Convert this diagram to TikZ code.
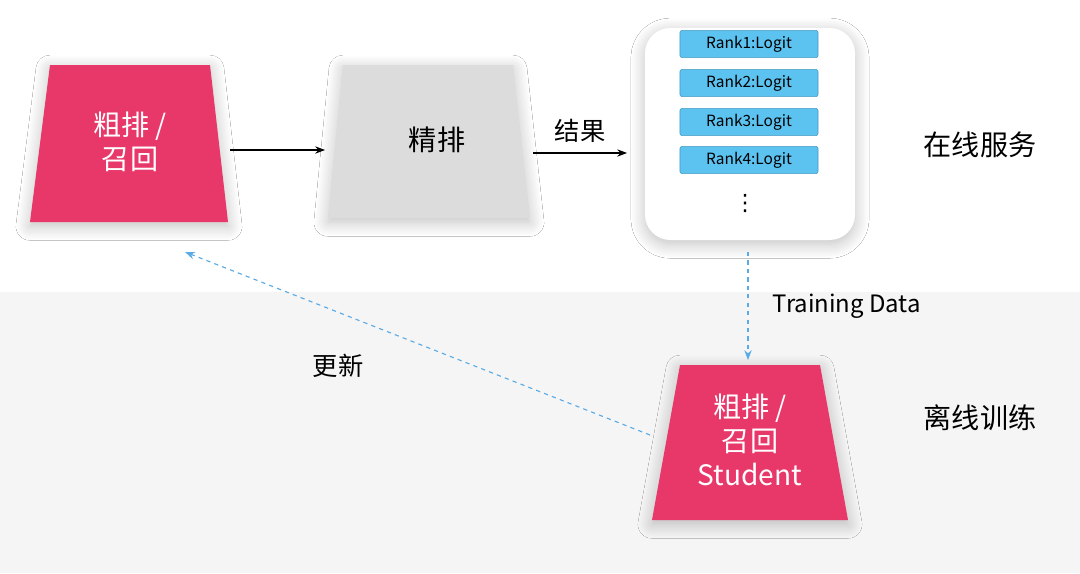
\documentclass[tikz,border=0pt]{standalone}
\usepackage{fontspec}
\setmainfont{Noto Sans CJK SC}
\newfontfamily\symfont{DejaVu Sans}
\usetikzlibrary{arrows.meta,shadows.blur}
\definecolor{pinkc}{HTML}{E8386A}
\definecolor{grayc}{HTML}{DCDCDC}
\definecolor{rankc}{HTML}{5CC2F0}
\definecolor{dashc}{HTML}{5AAAE6}
\definecolor{bgc}{HTML}{F5F5F5}
\begin{document}
\begin{tikzpicture}[x=0.025cm,y=-0.025cm,
bigtext/.style={font=\fontsize{20}{24}\selectfont},
ranknode/.style={rectangle, fill=rankc, draw=rankc!80!black, thin, rounded corners=1.5pt, minimum width=3.45cm, minimum height=0.68cm, font=\fontsize{11}{13}\selectfont},
solidarrow/.style={-{Stealth[length=7pt]}, thick},
dasharrow/.style={-{Stealth[length=7pt]}, dashc, dashed, thick},
softshadow/.style={blur shadow={shadow blur steps=12, shadow blur radius=10pt, shadow xshift=0pt, shadow yshift=-3pt, shadow opacity=25}},
]
%Background
\useasboundingbox (0,0) rectangle (1080,573);
\fill[white] (0,0) rectangle (1080,292);
\fill[bgc] (0,292) rectangle (1080,573);

%Shapes
\fill[pinkc, softshadow] (50,65) -- (210,65) -- (228,222) -- (30,222) -- cycle;
\fill[grayc, softshadow] (343,65) -- (513,65) -- (530,218) -- (328,218) -- cycle;
\fill[white, rounded corners=18pt, softshadow] (645,28) rectangle (855,240);
\fill[pinkc, softshadow] (680,365) -- (820,365) -- (848,520) -- (652,520) -- cycle;

%Nodes
\node[bigtext, text=white, align=center] (coarse) at (130,142) {粗排 /\\召回};
\node[bigtext] (fine) at (437,140) {精排};
\node[ranknode] (r1) at (749,44) {Rank1:Logit};
\node[ranknode] (r2) at (749,83) {Rank2:Logit};
\node[ranknode] (r3) at (749,122) {Rank3:Logit};
\node[ranknode] (r4) at (749,160) {Rank4:Logit};
\node[font=\symfont\fontsize{16}{18}\selectfont, inner sep=0pt] (dots) at (745,203) {⋮};
\node[bigtext] (online) at (980,145) {在线服务};
\node[bigtext] (offline) at (980,418) {离线训练};
\node[bigtext, text=white, align=center] (student) at (750,440) {粗排 /\\召回\\Student};
\coordinate (a1s) at (230,150);
\coordinate (a1e) at (325,150);
\coordinate (a2s) at (533,153);
\coordinate (a2e) at (627,153);
\coordinate (ds) at (748,252);
\coordinate (de) at (748,360);
\coordinate (us) at (650,435);
\coordinate (ue) at (185,252);

%Connectors
\draw[solidarrow] (a1s) -- (a1e);
\draw[solidarrow] (a2s) -- node[above=4pt, font=\fontsize{18}{22}\selectfont] (result) {结果} (a2e);
\draw[dasharrow] (ds) -- node[right=14pt, text=black, font=\fontsize{17}{20}\selectfont] (tdata) {Training Data} (de);
\draw[dasharrow] (us) -- (ue);
\node[font=\fontsize{18}{22}\selectfont] (update) at (338,366) {更新};
\end{tikzpicture}
\end{document}
